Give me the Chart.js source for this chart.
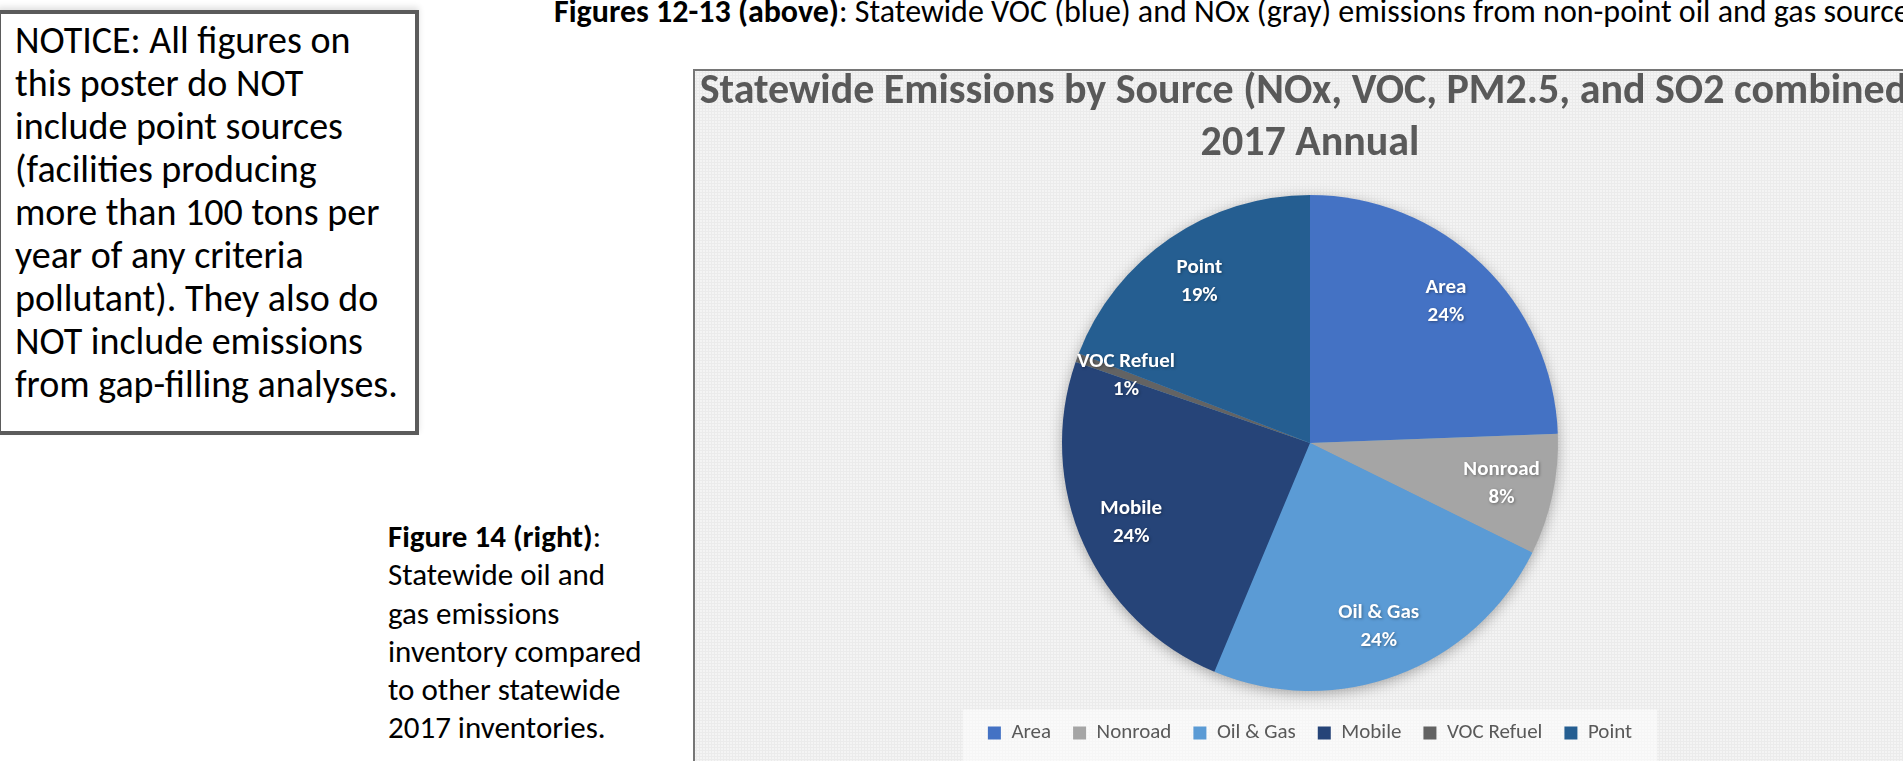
<!DOCTYPE html>
<html>
<head>
<meta charset="utf-8">
<script src="https://cdn.jsdelivr.net/npm/chart.js@4.4.1/dist/chart.umd.min.js"></script>
<style>
  html, body { margin: 0; padding: 0; width: 1903px; height: 761px; overflow: hidden; background: #ffffff; }
  body { position: relative; font-family: Carlito, Lato, "Open Sans", sans-serif; color: #000; }
  .notice-box { position: absolute; left: -3px; top: 10px; width: 422px; height: 425px; box-sizing: border-box;
    border: 4px solid #5b5b5b; background: #fff; box-shadow: 0 -3px 6px rgba(0,0,0,0.12); }
  .notice-text { position: absolute; left: 15px; top: 19px; font-size: 38px; line-height: 43px; white-space: nowrap; }
  .cap-top { position: absolute; left: 554px; top: -8px; font-size: 32px; line-height: 40px; white-space: nowrap; }
  .cap-14 { position: absolute; left: 388px; top: 517px; font-size: 31px; line-height: 38.3px; white-space: nowrap; }
  .chart-box { position: absolute; left: 693px; top: 69px; width: 1240px; height: 710px; box-sizing: border-box;
    border-top: 2px solid #767676; border-left: 2px solid #767676;
    background-color: #f4f4f4;
    background-image: radial-gradient(rgba(0,0,0,0.035) 1px, transparent 1.2px);
    background-size: 3px 3px; }
  #wrap { position: absolute; left: 695px; top: 66px; width: 1230px; height: 695px; }
</style>
</head>
<body>
<div class="cap-top"><b>Figures 12-13 (above)</b>: Statewide VOC (blue) and NOx (gray) emissions from non-point oil and gas sources</div>
<div class="notice-box"></div>
<div class="notice-text">NOTICE: All figures on<br>this poster do NOT<br>include point sources<br>(facilities producing<br>more than 100 tons per<br>year of any criteria<br>pollutant). They also do<br>NOT include emissions<br>from gap-filling analyses.</div>
<div class="cap-14"><b>Figure 14 (right)</b>:<br>Statewide oil and<br>gas emissions<br>inventory compared<br>to other statewide<br>2017 inventories.</div>
<div class="chart-box"></div>
<div id="wrap"><canvas id="c"></canvas></div>
<script>
const categories = ['Area', 'Nonroad', 'Oil & Gas', 'Mobile', 'VOC Refuel', 'Point'];
const shares = [24.4, 7.9, 24.0, 24.0, 0.6, 19.1];
const sliceColors = ['#4472C4', '#A5A5A5', '#5B9BD5', '#264478', '#636363', '#255E91'];
const titleLines = ['Statewide Emissions by Source (NOx, VOC, PM2.5, and SO2 combined)', '2017 Annual'];

const FONT = 'Carlito, Lato, "Open Sans", sans-serif';

const pieShadow = {
  id: 'pieShadow',
  beforeDatasetsDraw(chart) {
    const meta = chart.getDatasetMeta(0);
    if (!meta.data.length) return;
    const a = meta.data[0].getProps(['x', 'y', 'outerRadius'], true);
    const ctx = chart.ctx;
    ctx.save();
    ctx.shadowColor = 'rgba(0,0,0,0.35)';
    ctx.shadowBlur = 14;
    ctx.shadowOffsetY = 3;
    ctx.fillStyle = '#5B9BD5';
    ctx.beginPath();
    ctx.arc(a.x, a.y, a.outerRadius - 1, 0, Math.PI * 2);
    ctx.fill();
    ctx.restore();
  }
};

const legendBand = {
  id: 'legendBand',
  beforeDraw(chart) {
    const lg = chart.legend;
    if (!lg || !lg.legendHitBoxes || !lg.legendHitBoxes.length) return;
    let minX = Infinity, maxX = -Infinity;
    lg.legendHitBoxes.forEach(h => { minX = Math.min(minX, h.left); maxX = Math.max(maxX, h.left + h.width); });
    const ctx = chart.ctx;
    ctx.save();
    ctx.fillStyle = 'rgba(255,255,255,0.55)';
    ctx.fillRect(minX - 25, lg.top + 9, (maxX - minX) + 50, lg.bottom - lg.top);
    ctx.restore();
  }
};

const sliceLabels = {
  id: 'sliceLabels',
  afterDatasetsDraw(chart) {
    const meta = chart.getDatasetMeta(0);
    const data = chart.data.datasets[0].data;
    const total = data.reduce((s, v) => s + v, 0);
    const ctx = chart.ctx;
    ctx.save();
    ctx.font = 'bold 21px ' + FONT;
    ctx.fillStyle = '#ffffff';
    ctx.textAlign = 'center';
    ctx.textBaseline = 'middle';
    ctx.shadowColor = 'rgba(0,0,0,0.35)';
    ctx.shadowBlur = 3;
    ctx.shadowOffsetX = 1;
    ctx.shadowOffsetY = 1;
    meta.data.forEach((arc, i) => {
      const p = arc.getProps(['x', 'y', 'startAngle', 'endAngle', 'outerRadius'], true);
      const mid = (p.startAngle + p.endAngle) / 2;
      const r = p.outerRadius * 0.79;
      const cx = p.x + Math.cos(mid) * r;
      const cy = p.y + Math.sin(mid) * r;
      const pct = Math.round(data[i] / total * 100) + '%';
      ctx.fillText(chart.data.labels[i], cx, cy - 14);
      ctx.fillText(pct, cx, cy + 14);
    });
    ctx.restore();
  }
};

new Chart(document.getElementById('c'), {
  type: 'pie',
  data: {
    labels: categories,
    datasets: [{
      data: shares,
      backgroundColor: sliceColors,
      borderWidth: 0,
      radius: 248
    }]
  },
  options: {
    responsive: true,
    maintainAspectRatio: false,
    animation: false,
    layout: { padding: { top: 0, bottom: 7.5, left: 0, right: 0 } },
    plugins: {
      tooltip: { enabled: false },
      title: {
        display: true,
        text: titleLines,
        color: '#595959',
        font: { family: FONT, size: 42, weight: 'bold', lineHeight: 1.238 },
        padding: { top: 0.5, bottom: 15 }
      },
      legend: {
        display: true,
        position: 'bottom',
        labels: {
          color: '#595959',
          font: { family: FONT, size: 21 },
          boxWidth: 13,
          boxHeight: 13,
          padding: 22
        }
      }
    }
  },
  plugins: [pieShadow, legendBand, sliceLabels]
});
</script>
</body>
</html>
